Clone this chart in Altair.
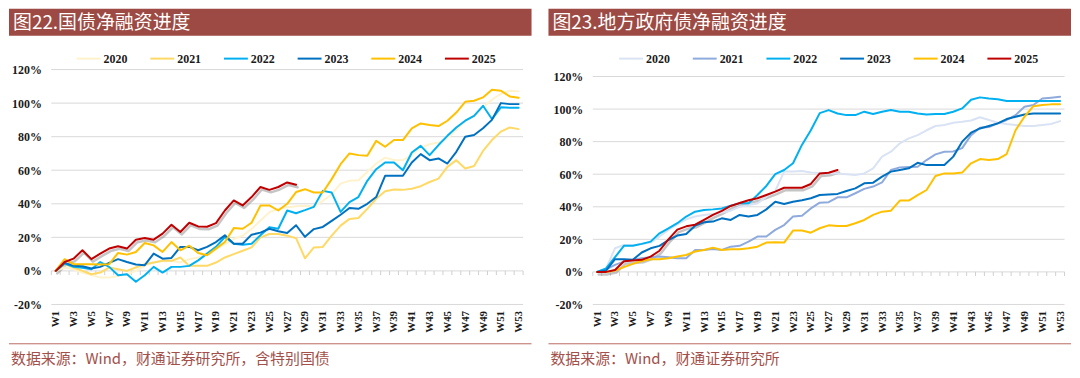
import altair as alt
import pandas as pd

years = ["2020", "2021", "2022", "2023", "2024", "2025"]
y_ticks = [-20, 0, 20, 40, 60, 80, 100, 120]
label_weeks = list(range(1, 54, 2))

# 图22 国债净融资进度 (%)
gb_2020 = [0, 2, 1, -1, -2.5, -4, -4, -3, -2, 0,
           3, 5, 6, 6, 5, 7, 8, 10, 13, 16,
           19, 21, 25, 30, 35, 37, 38, 38.5, 38.8, 38.4,
           41.7, 45.7, 52, 53.7, 54, 59, 64, 67.5, 66, 66,
           69, 73.5, 75.5, 76.5, 79, 84, 89, 93, 97.5, 102,
           105.5, 107.4, 107]
gb_2021 = [0, 4, 2, 0, -2, -1, 2, 1, 0, 2,
           4, 5, 6, 6, 8, 3, 3, 3, 5, 8,
           10, 12, 14, 20, 22, 22, 21, 19.5, 7.5, 14,
           14.3, 21, 27, 31, 31.5, 37, 43, 47.5, 48.5, 48.3,
           49, 50.5, 53, 55, 62, 66, 61, 62.5, 71.5, 78,
           83, 85.5, 84.5]
gb_2022 = [0, 4.4, 2.4, 1.8, 1, 5.3, 2.4, -2.6, -2, -6.5,
           -2.6, 2.4, -1, 2.4, 2.4, 3, 6.3, 10.3, 14.3, 20.2,
           16.2, 15.6, 16.2, 21.2, 26.1, 25.1, 36, 34.4, 36.2, 38.2,
           47.7, 46.7, 35.2, 41, 44, 53.7, 60.6, 64.6, 64.6, 60,
           70.6, 74.5, 69, 75, 80.5, 85.5, 89.5, 92.4, 98.4, 90.5,
           97.5, 97.2, 97.2]
gb_2023 = [0, 4.8, 3, 2.8, 1.4, 2.4, 4.8, 7, 5.3, 3.8,
           3.4, 10.3, 7.3, 7.7, 14.3, 14.3, 12.3, 14.3, 17.2, 21.2,
           16.2, 16.2, 21.6, 22.8, 25.1, 23.6, 22.6, 27.2, 20.3, 24.9,
           26.2, 29.8, 33.5, 37.5, 37, 40, 44, 56.7, 56.7, 56.7,
           64.6, 69.6, 66, 67, 64, 71, 80, 81, 85, 90,
           100, 99.4, 99.4]
gb_2024 = [0, 7, 4, 4, 4, 3.8, 4, 10.7, 9.7, 11.3,
           16.6, 15.2, 11.3, 17.2, 12.3, 15, 10.7, 9.3, 13.3, 17.2,
           25.5, 25.1, 28.7, 39, 39, 36, 40, 47, 48.7, 46.7,
           46.7, 54.7, 63.6, 70, 69, 68.6, 77.5, 74, 78, 78,
           85, 87.9, 87, 86.3, 89.5, 94.4, 100.8, 101.4, 103.4, 108,
           107.4, 104, 103.2]
gb_2025 = [0, 5.3, 7.3, 12.3, 7, 10.3, 13.3, 14.7, 13.3, 18.6,
           19.6, 18.6, 22.2, 27.5, 23.2, 28.7, 26.5, 26.3, 28.5, 36,
           42, 39, 44, 50, 48.3, 50, 52.7, 51.3]

# 图23 地方政府债净融资进度 (%)
lg_2020 = [0, 2.2, 14.5, 16.6, 16.4, 17.2, 18, 21.7, 25.8, 29.2,
           32.3, 34, 35, 35.6, 36.4, 37.6, 40, 41, 42, 46.2,
           49.7, 61.6, 61.6, 62, 61, 60.8, 60.5, 60.5, 60, 59.5,
           60.5, 63.6, 70.8, 73.8, 79, 82, 84, 87, 89.6, 90.2,
           91.6, 92.2, 93, 95, 93.3, 91.6, 90.8, 90.2, 89.6, 89.6,
           90.2, 90.8, 92.6]
lg_2021 = [0, 1.6, 4.3, 6.3, 7.4, 8.4, 9, 9.4, 9, 8.4,
           8.4, 13.5, 13.5, 14.1, 13.5, 15.5, 16, 18.6, 21.7, 21.7,
           25.8, 28.8, 34, 34.5, 39, 42.5, 42.8, 45.8, 45.8, 48.3,
           51, 52.4, 55, 62.6, 64.2, 64.4, 64.6, 68.7, 72.2, 73.8,
           74, 76, 84, 88.5, 89, 91.2, 93.3, 96.3, 101.4, 102.5,
           106.5, 107, 107.6]
lg_2022 = [0, 2.2, 9, 16, 16, 17.2, 18.6, 23.7, 26.8, 29.9,
           34, 37, 38, 38.4, 39, 40.7, 42.1, 42.1, 47.2, 52.8,
           60.1, 62.6, 66.7, 78, 87, 97.5, 99.4, 97.3, 96.3, 96.3,
           98.4, 97, 98.4, 99.4, 98.4, 98.4, 97.3, 96.7, 97, 97,
           98.4, 100.4, 105.7, 107.2, 106.5, 106, 105, 104.9, 104.9, 104.9,
           104.9, 104.9, 104.9]
lg_2023 = [0, 0.8, 7.8, 7.8, 7.4, 11.9, 14.5, 16, 19.6, 22.3,
           23.3, 28.4, 30.5, 30.9, 32.9, 31.9, 35, 34, 35, 38.4,
           43.1, 41.7, 43.1, 44, 45.2, 47.2, 47.6, 47.9, 49.7, 51.3,
           54.4, 54.8, 58.5, 61.6, 62.6, 63.6, 67, 65.6, 65.6, 65.6,
           70.8, 80, 85.5, 88.1, 89.6, 91.2, 93.9, 95.3, 96.7, 97.3,
           97.3, 97.3, 97.3]
lg_2024 = [0, 0, 0.8, 2.9, 4.9, 6.7, 7.8, 7.8, 8.4, 9.4,
           10.4, 12.5, 13.5, 14.9, 13.5, 13.9, 13.9, 14.5, 15.5, 18,
           18.2, 18, 25.4, 25.4, 24.1, 26.8, 28.6, 28.2, 28.2, 29.9,
           31.9, 35, 37, 37.6, 43.8, 43.8, 47.2, 50.3, 58.9, 60.5,
           60.5, 61, 66.7, 69.3, 68.7, 69.3, 72.4, 87, 95.3, 101.8,
           102.5, 102.9, 102.9]
lg_2025 = [0, 0, 1.2, 6.5, 7, 7.4, 9.4, 13, 20, 26,
           28, 29, 32, 35, 37.5, 40.5, 42.3, 44, 45.2, 47.2,
           49.3, 51.7, 51.7, 51.7, 54, 60.5, 60.9, 62.6]

gb_colors = ["#FFF2CC", "#FFD966", "#00B0F0", "#0070C0", "#FFC000", "#C00000"]
lg_colors = ["#DAE3F3", "#8FAADC", "#00B0F0", "#0070C0", "#FFC000", "#C00000"]

PW, PH = 525, 362
BAR = "#9C4A43"
SRC = "#A3504A"
SERIF = "Liberation Serif"
CJK = "Noto Sans CJK SC"


def long_df(series):
    rows = []
    for yr, vals in zip(years, series):
        for i, v in enumerate(vals):
            rows.append({"week": i + 1, "year": yr, "value": v})
    return pd.DataFrame(rows)


def panel(title, source, series, colors, xr, yr, legend_x):
    df = long_df(series)
    last = df[df["year"] == years[-1]]
    xscale = alt.Scale(domain=[0.5, 53.5], range=xr, nice=False, zero=False)
    yscale = alt.Scale(domain=[-20, 120], range=yr, nice=False, zero=False)
    xaxis = alt.Axis(values=label_weeks, labelExpr="'W' + datum.value",
                     labelAngle=270, labelFont=SERIF, labelFontWeight="bold",
                     labelFontSize=11, labelColor="#1a1a1a", grid=False,
                     ticks=False, domain=False, title=None,
                     offset=-(PH - yr[0]), labelPadding=6, labelOverlap=False)
    yaxis = alt.Axis(values=y_ticks, labelExpr="datum.value + '%'",
                     labelFont=SERIF, labelFontWeight="bold", labelFontSize=12,
                     labelColor="#1a1a1a", grid=False, ticks=False,
                     domain=False, title=None, offset=-xr[0], labelPadding=10)

    dummy = pd.DataFrame({"a": [0]})
    bar = alt.Chart(dummy).mark_rect(color=BAR).encode(
        x=alt.value(0), x2=alt.value(PW), y=alt.value(0), y2=alt.value(27))
    ttl = alt.Chart(dummy).mark_text(
        align="left", baseline="middle", font=CJK, fontSize=19,
        color="white").encode(x=alt.value(4), y=alt.value(14),
                              text=alt.value(title))

    grid_df = pd.DataFrame({"v": y_ticks, "x0": 0.5, "x1": 53.5})
    grid = alt.Chart(grid_df).mark_rule(color="#D9D9D9", strokeWidth=1).encode(
        x=alt.X("x0:Q", scale=xscale, axis=xaxis),
        x2="x1",
        y=alt.Y("v:Q", scale=yscale, axis=yaxis))

    tick_df = pd.DataFrame({"b": [i + 0.5 for i in range(54)],
                            "t0": 0.0, "t1": -2.5})
    ticks = alt.Chart(tick_df).mark_rule(color="#D0D0D0", strokeWidth=1).encode(
        x=alt.X("b:Q", scale=xscale, axis=xaxis),
        y=alt.Y("t0:Q", scale=yscale, axis=yaxis),
        y2="t1")

    shadow = alt.Chart(last).mark_line(
        color="#7F7F7F", opacity=0.45, strokeWidth=2.5, xOffset=1.5,
        yOffset=2.5, strokeJoin="round", strokeCap="round").encode(
        x=alt.X("week:Q", scale=xscale, axis=xaxis),
        y=alt.Y("value:Q", scale=yscale, axis=yaxis))

    lines = alt.Chart(df).mark_line(
        strokeWidth=2, strokeJoin="round", strokeCap="round").encode(
        x=alt.X("week:Q", scale=xscale, axis=xaxis),
        y=alt.Y("value:Q", scale=yscale, axis=yaxis),
        color=alt.Color("year:N", sort=years,
                        scale=alt.Scale(domain=years, range=colors),
                        legend=alt.Legend(
                            orient="none", legendX=legend_x, legendY=37,
                            direction="horizontal", title=None,
                            symbolType="stroke", symbolSize=576,
                            symbolStrokeWidth=2, labelFont=SERIF,
                            labelFontWeight="bold", labelFontSize=12,
                            labelColor="#1a1a1a", labelOffset=2,
                            columnPadding=19, padding=0)),
        order=alt.Order("week:Q"))

    src_line = alt.Chart(dummy).mark_rule(color="#B86B65", strokeWidth=1).encode(
        x=alt.value(0), x2=alt.value(PW), y=alt.value(336.5))
    src = alt.Chart(dummy).mark_text(
        align="left", baseline="middle", font=CJK, fontSize=15,
        color=SRC).encode(x=alt.value(2), y=alt.value(352),
                          text=alt.value(source))

    return alt.layer(bar, ttl, grid, ticks, shadow, lines, src_line, src
                     ).properties(width=PW, height=PH)


left = panel("图22.国债净融资进度", "数据来源：Wind，财通证券研究所，含特别国债",
             [gb_2020, gb_2021, gb_2022, gb_2023, gb_2024, gb_2025],
             gb_colors, [42.5, 516.5], [297, 61], 67)
right = panel("图23.地方政府债净融资进度", "数据来源：Wind，财通证券研究所",
              [lg_2020, lg_2021, lg_2022, lg_2023, lg_2024, lg_2025],
              lg_colors, [44.5, 518.5], [297, 68], 70)

chart = alt.hconcat(left, right, spacing=15).resolve_scale(
    x="independent", y="independent", color="independent"
).properties(padding=0, background="white").configure_view(stroke=None)

chart.save("out.html", embed_options={"renderer": "svg", "actions": False})
